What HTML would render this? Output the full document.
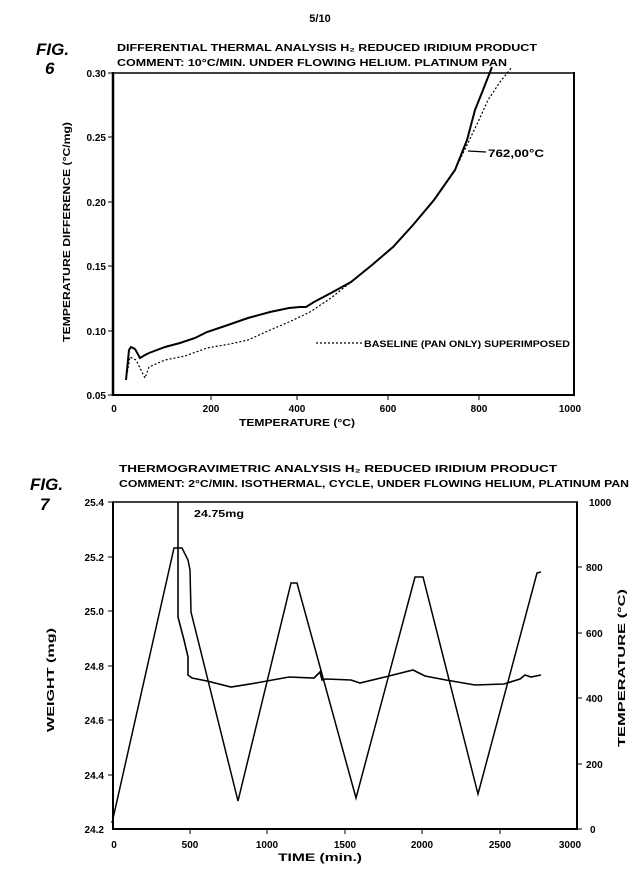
<!DOCTYPE html>
<html><head><meta charset="utf-8"><style>
html,body{margin:0;padding:0;background:#fff;}
svg{display:block;}
text{font-family:"Liberation Sans",sans-serif;fill:#000;font-weight:bold;}
</style></head><body>
<svg width="640" height="885" viewBox="0 0 640 885" xmlns="http://www.w3.org/2000/svg">
<rect width="640" height="885" fill="#fff"/>
<text x="320" y="22" font-size="11" text-anchor="middle">5/10</text>

<!-- FIG 6 -->
<text x="36" y="55" font-size="17" font-style="italic" font-weight="normal">FIG.</text>
<text x="45" y="74" font-size="17" font-style="italic">6</text>
<text x="117" y="51" font-size="10" textLength="420" lengthAdjust="spacingAndGlyphs">DIFFERENTIAL THERMAL ANALYSIS  H₂ REDUCED IRIDIUM PRODUCT</text>
<text x="117" y="66" font-size="10" textLength="390" lengthAdjust="spacingAndGlyphs">COMMENT: 10°C/MIN. UNDER FLOWING HELIUM. PLATINUM PAN</text>
<g stroke="#000" fill="none">
<line x1="113" y1="72" x2="113" y2="396" stroke-width="2.5"/>
<line x1="112" y1="395" x2="575" y2="395" stroke-width="2"/>
<line x1="112" y1="73" x2="575" y2="73" stroke-width="1.5"/>
<line x1="574" y1="72" x2="574" y2="396" stroke-width="2"/>
<g stroke-width="1">
<line x1="108" y1="73" x2="113" y2="73"/><line x1="108" y1="137" x2="113" y2="137"/><line x1="108" y1="202" x2="113" y2="202"/><line x1="108" y1="266" x2="113" y2="266"/><line x1="108" y1="331" x2="113" y2="331"/><line x1="108" y1="395" x2="113" y2="395"/>
<line x1="211" y1="395" x2="211" y2="400"/><line x1="297" y1="395" x2="297" y2="400"/><line x1="388" y1="395" x2="388" y2="400"/><line x1="479" y1="395" x2="479" y2="400"/>
</g>
<polyline stroke-width="2" points="126,380 129,350 131,347 135,349 140,358 145,355 149,353 157,350 165,347 180,343 195,338 207,332 225,326 248,318 270,312 289,308 300,307 306,307 314,302 331,293 351,282 372,265 393,247 413,225 434,200 455,170 467,140 471,125 475,110 483,90 492,67"/>
<polyline stroke-width="1.2" stroke-dasharray="2,2" points="126,380 130,357 136,360 140,368 145,378 149,367 165,360 185,356 207,348 230,344 248,340 270,330 289,322 310,312 331,298 351,282 372,265 393,247 413,225 434,200 455,170 467,145 478,122 488,100 500,82 512,67"/>
<line x1="468" y1="151" x2="486" y2="152" stroke-width="1.2"/>
<line x1="316" y1="343" x2="362" y2="343" stroke-width="1.2" stroke-dasharray="2,2"/>
</g>
<text x="488" y="157" font-size="11" textLength="56" lengthAdjust="spacingAndGlyphs">762,00°C</text>
<text x="364" y="347" font-size="9" textLength="206" lengthAdjust="spacingAndGlyphs">BASELINE (PAN ONLY) SUPERIMPOSED</text>
<g font-size="10" text-anchor="end">
<text x="106" y="77">0.30</text><text x="106" y="141">0.25</text><text x="106" y="206">0.20</text><text x="106" y="270">0.15</text><text x="106" y="335">0.10</text><text x="106" y="399">0.05</text>
</g>
<g font-size="10" text-anchor="middle">
<text x="114" y="412">0</text><text x="211" y="412">200</text><text x="297" y="412">400</text><text x="388" y="412">600</text><text x="479" y="412">800</text><text x="570" y="412">1000</text>
</g>
<text x="297" y="426" font-size="10" text-anchor="middle" textLength="116" lengthAdjust="spacingAndGlyphs">TEMPERATURE (°C)</text>
<text transform="translate(70,232) rotate(-90)" font-size="10" text-anchor="middle" textLength="220" lengthAdjust="spacingAndGlyphs">TEMPERATURE DIFFERENCE (°C/mg)</text>

<!-- FIG 7 -->
<text x="30" y="490" font-size="17" font-style="italic" font-weight="normal">FIG.</text>
<text x="40" y="510" font-size="17" font-style="italic" font-weight="normal">7</text>
<text x="119" y="472" font-size="10" textLength="438" lengthAdjust="spacingAndGlyphs">THERMOGRAVIMETRIC ANALYSIS     H₂ REDUCED     IRIDIUM PRODUCT</text>
<text x="119" y="487" font-size="10" textLength="510" lengthAdjust="spacingAndGlyphs">COMMENT: 2°C/MIN. ISOTHERMAL, CYCLE, UNDER FLOWING HELIUM, PLATINUM PAN</text>
<g stroke="#000" fill="none">
<line x1="113" y1="502" x2="113" y2="830" stroke-width="2"/>
<line x1="112" y1="829" x2="578" y2="829" stroke-width="2"/>
<line x1="112" y1="502" x2="578" y2="502" stroke-width="1.5"/>
<line x1="577" y1="502" x2="577" y2="830" stroke-width="2"/>
<g stroke-width="1">
<line x1="108" y1="502" x2="113" y2="502"/><line x1="108" y1="557" x2="113" y2="557"/><line x1="108" y1="611" x2="113" y2="611"/><line x1="108" y1="666" x2="113" y2="666"/><line x1="108" y1="720" x2="113" y2="720"/><line x1="108" y1="775" x2="113" y2="775"/>
<line x1="577" y1="567" x2="582" y2="567"/><line x1="577" y1="633" x2="582" y2="633"/><line x1="577" y1="698" x2="582" y2="698"/><line x1="577" y1="764" x2="582" y2="764"/><line x1="577" y1="829" x2="582" y2="829"/>
<line x1="190" y1="829" x2="190" y2="834"/><line x1="267" y1="829" x2="267" y2="834"/><line x1="345" y1="829" x2="345" y2="834"/><line x1="422" y1="829" x2="422" y2="834"/><line x1="500" y1="829" x2="500" y2="834"/>
</g>
<polyline stroke-width="1.5" points="112,823 174,548 182,548 188,560 190,570 191,612 238,801 291,583 297,583 356,798 415,577 423,577 478,794 537,573 541,572"/>
<polyline stroke-width="1.6" points="178,502 178,617 184,640 188,657 188,675 192,678 207,681 231,687 256,683 289,677 314,678 320,672 322,680 326,679 351,680 360,683 385,677 413,670 425,676 446,680 475,685 504,684 520,679 525,675 531,677 541,675"/>
</g>
<text x="194" y="517" font-size="10" textLength="50" lengthAdjust="spacingAndGlyphs">24.75mg</text>
<g font-size="10" text-anchor="end">
<text x="104" y="506">25.4</text><text x="104" y="561">25.2</text><text x="104" y="615">25.0</text><text x="104" y="670">24.8</text><text x="104" y="724">24.6</text><text x="104" y="779">24.4</text><text x="104" y="833">24.2</text>
</g>
<g font-size="10">
<text x="589" y="506">1000</text><text x="586" y="571">800</text><text x="586" y="637">600</text><text x="586" y="702">400</text><text x="586" y="768">200</text><text x="590" y="833">0</text>
</g>
<g font-size="10" text-anchor="middle">
<text x="114" y="848">0</text><text x="190" y="848">500</text><text x="267" y="848">1000</text><text x="345" y="848">1500</text><text x="422" y="848">2000</text><text x="500" y="848">2500</text><text x="570" y="848">3000</text>
</g>
<text x="320" y="861" font-size="11" text-anchor="middle" textLength="84" lengthAdjust="spacingAndGlyphs">TIME (min.)</text>
<text transform="translate(54,680) rotate(-90)" font-size="10" text-anchor="middle" textLength="104" lengthAdjust="spacingAndGlyphs">WEIGHT (mg)</text>
<text transform="translate(625,668) rotate(-90)" font-size="10" text-anchor="middle" textLength="158" lengthAdjust="spacingAndGlyphs">TEMPERATURE (°C)</text>
</svg>
</body></html>
